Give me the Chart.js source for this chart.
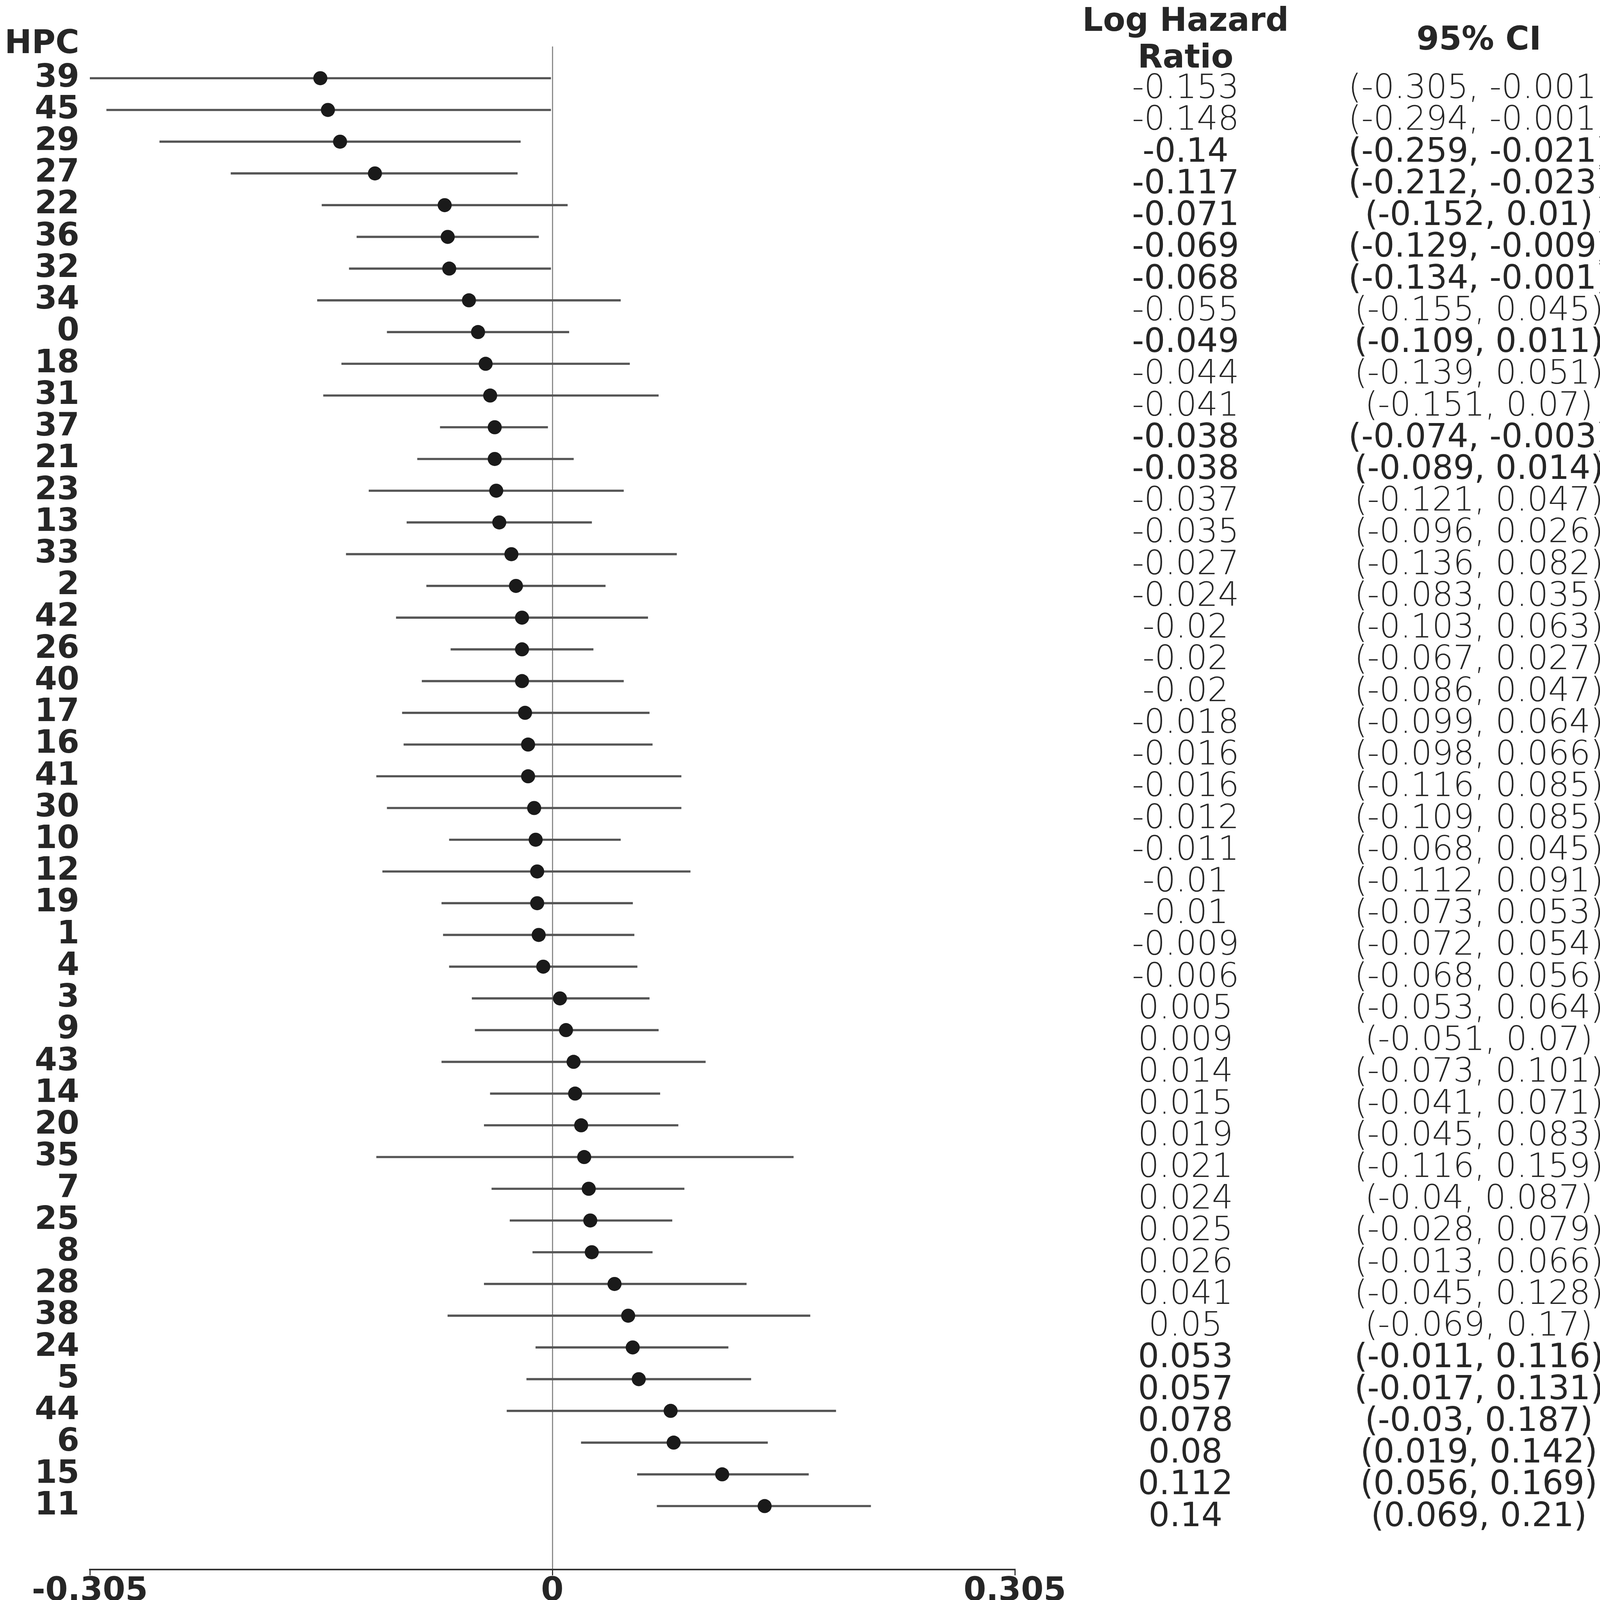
<!DOCTYPE html>
<html><head><meta charset="utf-8">
<script src="https://cdn.jsdelivr.net/npm/chart.js@4/dist/chart.umd.min.js"></script>
<style>html,body{margin:0;padding:0;background:#fff;} canvas{display:block;}</style>
</head><body>
<canvas id="c" width="4669" height="4226" style="width:4669px;height:4226px"></canvas>
<script>
const hpcLabels = ['39','45','29','27','22','36','32','34','0','18','31','37','21','23','13','33','2','42','26','40','17','16','41','30','10','12','19','1','4','3','9','43','14','20','35','7','25','8','28','38','24','5','44','6','15','11'];
const logHR  = [-0.153,-0.148,-0.14,-0.117,-0.071,-0.069,-0.068,-0.055,-0.049,-0.044,-0.041,-0.038,-0.038,-0.037,-0.035,-0.027,-0.024,-0.02,-0.02,-0.02,-0.018,-0.016,-0.016,-0.012,-0.011,-0.01,-0.01,-0.009,-0.006,0.005,0.009,0.014,0.015,0.019,0.021,0.024,0.025,0.026,0.041,0.05,0.053,0.057,0.078,0.08,0.112,0.14];
const ciLow  = [-0.305,-0.294,-0.259,-0.212,-0.152,-0.129,-0.134,-0.155,-0.109,-0.139,-0.151,-0.074,-0.089,-0.121,-0.096,-0.136,-0.083,-0.103,-0.067,-0.086,-0.099,-0.098,-0.116,-0.109,-0.068,-0.112,-0.073,-0.072,-0.068,-0.053,-0.051,-0.073,-0.041,-0.045,-0.116,-0.04,-0.028,-0.013,-0.045,-0.069,-0.011,-0.017,-0.03,0.019,0.056,0.069];
const ciHigh = [-0.001,-0.001,-0.021,-0.023,0.01,-0.009,-0.001,0.045,0.011,0.051,0.07,-0.003,0.014,0.047,0.026,0.082,0.035,0.063,0.027,0.047,0.064,0.066,0.085,0.085,0.045,0.091,0.053,0.054,0.056,0.064,0.07,0.101,0.071,0.083,0.159,0.087,0.079,0.066,0.128,0.17,0.116,0.131,0.187,0.142,0.169,0.21];
const pValues = [0.0,0.0,0.0,0.0,0.006,0.0,0.0,0.211,0.009,0.393,0.624,0.0,0.039,0.417,0.146,0.596,0.551,0.876,0.46,0.757,0.844,0.936,0.409,0.93,0.706,0.936,0.946,0.877,0.996,0.994,0.951,0.84,0.516,0.767,0.966,0.522,0.308,0.064,0.325,0.484,0.009,0.027,0.045,0.0,0.0,0.0];
const emphasizedHPC = ['29','27','22','36','32','0','37','21','24','5','44','6','15','11'];
const xTickValues = [-0.305, 0, 0.305];
const xTitles = ['Against Recurrence', 'Favors Recurrence'];
const tableHeaders = [['Log Hazard','Ratio'], ['95% CI'], ['P-Value']];
const yAxisTitle = 'HPC';

function fmt(v){ return Number.isInteger(v) ? v.toFixed(1) : String(v); }

const DARK = '#262626';
const COLS = [3035, 3786, 4424];

const tablePlugin = {
  id: 'forestTable',
  beforeDraw(chart){
    const c = chart.ctx; c.save(); c.fillStyle = '#fff'; c.fillRect(0,0,chart.width,chart.height); c.restore();
  },
  afterDraw(chart){
    const c = chart.ctx, ys = chart.scales.y, xs = chart.scales.x;
    c.save();
    c.fillStyle = DARK;
    c.textBaseline = 'alphabetic';
    c.font = 'bold 83px "DejaVu Sans"';
    c.textAlign = 'right';
    c.fillText(yAxisTitle, 203, 136);
    c.textAlign = 'center';
    c.fillText(tableHeaders[0][0], COLS[0], 79);
    c.fillText(tableHeaders[0][1], COLS[0], 173);
    c.fillText(tableHeaders[1][0], COLS[1], 127);
    c.fillText(tableHeaders[2][0], COLS[2], 127);
    hpcLabels.forEach((h, i) => {
      const py = ys.getPixelForValue(i) + 51;
      const strong = emphasizedHPC.includes(h);
      c.font = strong ? '85px "DejaVu Sans"' : '200 85px "DejaVu Sans"';
      c.fillStyle = DARK;
      c.fillText(fmt(logHR[i]), COLS[0], py);
      c.fillText('(' + fmt(ciLow[i]) + ', ' + fmt(ciHigh[i]) + ')', COLS[1], py);
      c.fillText(fmt(pValues[i]), COLS[2], py);
    });
    const zx = xs.getPixelForValue(0);
    c.font = 'bold 83px "DejaVu Sans"';
    c.fillStyle = DARK;
    c.textAlign = 'right';
    c.fillText(xTitles[0], zx - 56, 4195);
    c.textAlign = 'left';
    c.fillText(xTitles[1], zx + 58, 4195);
    c.restore();
  }
};

new Chart(document.getElementById('c'), {
  type: 'bar',
  data: {
    datasets: [
      {
        type: 'scatter',
        order: 0,
        data: logHR.map((v, i) => ({x: v, y: i})),
        pointRadius: 18,
        pointBackgroundColor: '#1a1a1a',
        pointBorderWidth: 0,
        showLine: false
      },
      {
        type: 'bar',
        order: 1,
        indexAxis: 'y',
        data: ciLow.map((lo, i) => ({x: [lo, ciHigh[i]], y: i})),
        backgroundColor: '#555555',
        borderWidth: 0,
        barThickness: 5,
        grouped: false
      }
    ]
  },
  options: {
    indexAxis: 'y',
    responsive: false,
    devicePixelRatio: 1,
    animation: false,
    events: [],
    layout: { padding: { top: 119, right: 2071, bottom: 0, left: 0 } },
    plugins: { legend: { display: false }, tooltip: { enabled: false }, title: { display: false } },
    scales: {
      x: {
        type: 'linear',
        offset: false,
        min: -0.305, max: 0.305,
        afterBuildTicks: s => { s.ticks = xTickValues.map(v => ({value: v})); },
        afterFit: s => { s.height = 208; },
        ticks: {
          autoSkip: false, maxRotation: 0, padding: -7, color: DARK,
          font: { family: 'DejaVu Sans', weight: 'bold', size: 83 },
          callback: v => String(v)
        },
        grid: {
          display: true, drawOnChartArea: true, offset: false,
          color: ctx => (ctx.tick && ctx.tick.value === 0) ? '#8c8c8c' : 'rgba(0,0,0,0)',
          lineWidth: 3, tickLength: 15, tickColor: '#333', tickWidth: 3
        },
        border: { display: true, color: '#333', width: 4 }
      },
      y: {
        type: 'linear',
        offset: false,
        reverse: true,
        min: -1, max: 47,
        afterBuildTicks: s => { s.ticks = hpcLabels.map((_, i) => ({value: i})); },
        afterFit: s => { s.width = 230; },
        ticks: {
          autoSkip: false, padding: 27, color: DARK,
          font: { family: 'DejaVu Sans', weight: 'bold', size: 82 },
          callback: v => hpcLabels[v]
        },
        grid: { display: false, drawTicks: false, offset: false },
        border: { display: false }
      }
    }
  },
  plugins: [tablePlugin]
});
</script>
</body></html>
